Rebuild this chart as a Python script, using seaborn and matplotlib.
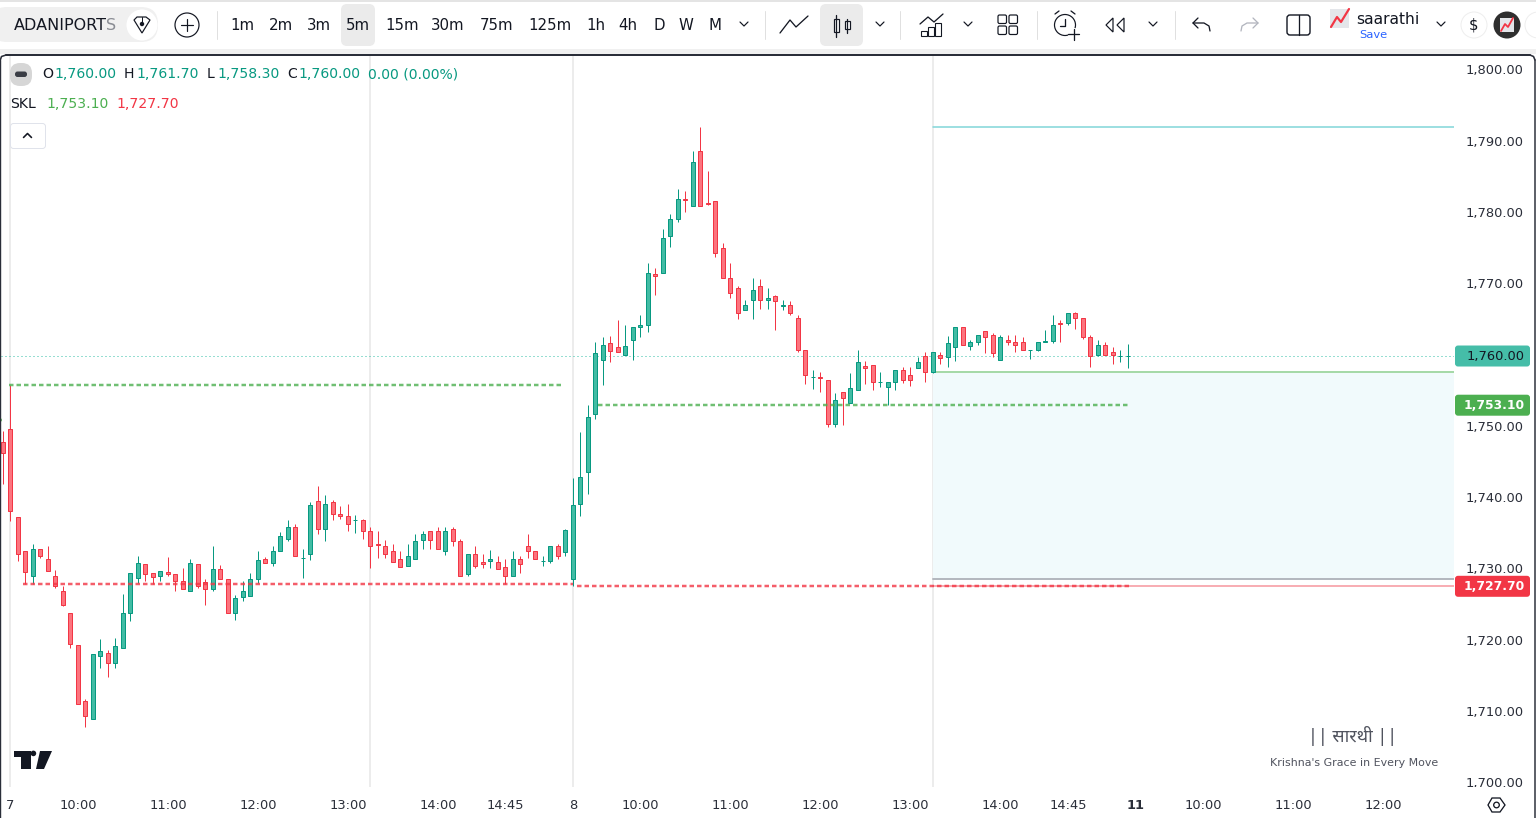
import numpy as np
import matplotlib
matplotlib.use("Agg")
import matplotlib.pyplot as plt
from matplotlib.patches import FancyBboxPatch, Rectangle, Circle, Polygon
from matplotlib.transforms import Bbox, ScaledTranslation
import seaborn as sns

# 5-minute session data, oldest bar first
opens = [1748.0,1749.7,1737.4,1732.6,1729.2,1733.0,1731.5,1729.1,1727.0,1723.9,1719.4,1711.6,1709.1,1717.9,1718.4,1716.9,1719.0,1723.9,1728.8,1730.8,
         1729.5,1729.1,1729.7,1729.4,1728.4,1727.0,1730.8,1728.3,1727.3,1730.1,1728.7,1723.9,1726.2,1726.3,1728.7,1731.5,1730.9,1732.6,1734.3,1736.0,
         1731.6,1732.3,1739.6,1735.7,1739.5,1737.9,1737.5,1737.0,1737.0,1735.4,1733.6,1733.3,1732.7,1731.5,1730.5,1731.5,1734.2,1735.4,1735.4,1732.6,
         1735.8,1734.0,1729.4,1732.3,1731.1,1731.2,1731.1,1730.4,1729.2,1731.5,1733.3,1732.6,1731.3,1731.2,1733.3,1732.5,1728.7,1739.2,1743.7,1751.8,
         1759.5,1761.8,1761.2,1760.2,1762.3,1764.0,1764.4,1771.5,1771.7,1776.8,1779.2,1782.0,1781.0,1788.7,1781.4,1781.8,1775.2,1771.0,1769.5,1766.4,
         1767.9,1769.8,1767.9,1768.4,1767.0,1767.2,1765.3,1760.9,1757.0,1757.0,1756.6,1750.4,1754.9,1753.4,1755.3,1758.6,1758.7,1756.3,1755.6,1756.3,
         1758.0,1757.4,1758.3,1760.0,1757.7,1760.1,1759.8,1761.2,1764.0,1761.4,1761.9,1763.5,1762.9,1759.5,1762.3,1761.9,1761.9,1760.8,1760.8,1761.9,
         1762.1,1764.6,1764.6,1766.0,1765.4,1762.6,1760.1,1761.5,1760.5,1760.0,1760.0]
highs = [1749.5,1755.9,1737.4,1732.6,1733.6,1733.0,1733.4,1730.0,1727.8,1723.9,1719.4,1711.9,1718.2,1720.3,1718.8,1720.5,1726.6,1729.5,1732.0,1730.8,
         1729.5,1729.8,1731.8,1729.4,1730.3,1731.5,1730.8,1728.7,1733.4,1730.7,1728.7,1726.5,1728.4,1729.5,1732.7,1731.8,1733.4,1735.3,1737.0,1736.4,
         1732.9,1739.5,1741.8,1740.5,1739.8,1738.9,1739.2,1737.7,1737.2,1736.0,1735.5,1734.2,1733.7,1732.6,1733.6,1735.0,1735.4,1735.4,1736.0,1736.0,
         1736.0,1734.3,1732.2,1733.4,1732.3,1732.8,1731.9,1731.5,1732.6,1731.9,1735.0,1732.6,1732.0,1733.4,1733.6,1735.8,1742.9,1749.3,1753.1,1761.9,
         1762.6,1762.8,1765.1,1764.4,1764.0,1765.8,1773.0,1772.4,1777.8,1779.9,1783.4,1783.2,1788.7,1792.1,1785.9,1781.8,1775.8,1773.0,1769.8,1767.9,
         1771.0,1770.8,1769.5,1768.5,1767.9,1767.7,1765.8,1760.9,1758.0,1757.7,1756.7,1754.8,1754.9,1757.6,1760.9,1759.3,1758.7,1757.7,1756.3,1758.0,
         1758.4,1758.4,1759.8,1760.5,1760.5,1760.5,1762.8,1764.0,1764.0,1762.3,1762.9,1763.5,1763.2,1763.0,1763.0,1763.0,1762.6,1760.9,1761.9,1763.7,
         1765.8,1765.0,1766.0,1766.2,1765.4,1763.0,1762.3,1761.9,1761.2,1760.9,1761.7]
lows = [1742.1,1736.9,1731.2,1728.0,1728.0,1731.6,1729.9,1727.5,1724.9,1719.0,1711.2,1708.0,1709.1,1716.2,1715.0,1716.3,1719.0,1722.9,1728.1,1728.5,
        1728.0,1728.5,1729.1,1727.1,1727.3,1727.0,1727.4,1725.1,1727.0,1728.7,1723.9,1723.0,1725.7,1726.3,1728.1,1730.9,1730.5,1732.6,1734.1,1731.9,
        1728.9,1731.4,1735.1,1734.0,1737.0,1737.2,1735.5,1735.2,1734.4,1730.2,1731.7,1731.6,1731.1,1730.4,1730.5,1731.5,1733.0,1733.0,1732.9,1732.1,
        1733.4,1729.1,1729.1,1730.2,1730.3,1730.3,1730.1,1728.0,1729.2,1729.5,1731.6,1731.5,1730.5,1730.9,1731.5,1732.0,1727.8,1737.5,1740.7,1751.2,
        1756.0,1759.1,1760.5,1760.2,1759.5,1762.6,1763.3,1768.6,1771.7,1775.3,1778.8,1780.2,1781.0,1781.1,1781.2,1773.9,1771.0,1768.2,1765.2,1766.4,
        1765.2,1766.6,1766.6,1763.7,1766.5,1765.8,1760.6,1756.1,1755.4,1755.0,1750.1,1750.1,1750.3,1753.4,1755.3,1756.1,1755.3,1755.6,1753.1,1755.3,
        1756.2,1755.8,1758.3,1756.4,1757.6,1758.9,1758.4,1759.3,1761.5,1760.9,1761.5,1760.4,1759.8,1759.5,1761.5,1760.5,1760.9,1759.6,1760.7,1761.9,
        1761.8,1762.0,1764.3,1763.8,1762.4,1758.5,1760.0,1760.2,1758.9,1759.2,1758.3]
closes = [1746.4,1738.2,1732.2,1729.7,1732.9,1731.9,1729.9,1727.7,1725.1,1719.6,1711.2,1709.5,1718.2,1718.6,1716.9,1719.3,1723.9,1729.5,1730.9,1729.4,
          1729.0,1729.8,1729.4,1728.4,1727.3,1730.9,1727.7,1727.3,1730.1,1728.7,1723.9,1726.0,1727.1,1728.7,1731.4,1730.9,1732.6,1734.7,1736.0,1731.9,
          1731.6,1739.1,1735.7,1739.2,1737.9,1737.5,1736.4,1737.0,1735.4,1733.3,1733.55,1732.2,1731.1,1730.4,1731.9,1734.0,1735.1,1734.2,1732.9,1735.4,
          1734.0,1729.2,1732.2,1730.5,1730.8,1731.5,1730.1,1729.2,1731.5,1730.8,1732.6,1731.5,1731.3,1733.4,1731.9,1735.6,1739.1,1743.1,1751.5,1760.4,
          1761.5,1760.7,1760.5,1761.4,1764.0,1764.4,1771.7,1771.2,1776.5,1779.2,1782.0,1781.95,1787.2,1781.1,1781.35,1774.5,1771.0,1768.9,1766.1,1767.2,
          1769.2,1767.9,1768.2,1767.7,1767.2,1766.0,1760.9,1757.4,1757.0,1756.95,1750.5,1753.8,1754.1,1755.5,1759.1,1758.3,1756.3,1756.3,1756.3,1758.0,
          1756.7,1756.7,1759.1,1757.7,1760.5,1759.7,1761.8,1764.0,1761.6,1761.9,1762.9,1762.6,1760.4,1762.6,1761.9,1761.6,1760.9,1760.8,1761.9,1762.1,
          1764.3,1764.55,1766.0,1765.4,1762.6,1760.0,1761.5,1760.2,1760.1,1760.0,1760.0]

# Support / resistance levels: (price, first bar, last bar)
skl_green_prior = (1751.0, -1.0, -0.1)
skl_green_day1 = (1755.94, 0.8, 74.5)
skl_green_day2 = (1753.10, 79.3, 150.2)
skl_red_day1 = (1728.0, 2.7, 76.0)
skl_red_day2 = (1727.70, 76.5, 150.3)

zone_start_bar = 124
zone_high = 1792.1
zone_mid_top = 1757.8
zone_mid_bottom = 1728.7
zone_low = 1727.7
last_price = 1760.00

session_bars = [1, 49, 76, 124]
price_ticks = [1700, 1710, 1720, 1730, 1740, 1750, 1760, 1770, 1780, 1790, 1800]
time_ticks = [1, 10, 22, 34, 46, 58, 67, 76, 85, 97, 109, 121, 133, 142, 151, 160, 172, 184]
time_labels = ["7", "10:00", "11:00", "12:00", "13:00", "14:00", "14:45", "8", "10:00", "11:00",
               "12:00", "13:00", "14:00", "14:45", "11", "10:00", "11:00", "12:00"]
timeframes = ["1m", "2m", "3m", "5m", "15m", "30m", "75m", "125m", "1h", "4h", "D", "W", "M"]
timeframe_centres = [242, 281, 319, 358, 402, 448, 497, 550, 596, 628, 659, 686, 715]

UP_EDGE, UP_FILL = "#089981", "#42bca4"
DOWN_EDGE, DOWN_FILL = "#f23645", "#fc747e"
LEVEL_GREEN, LEVEL_RED = "#4caf50", "#f23645"
INK = "#131722"
AXIS_TEXT = "#2a2e39"

sns.set_theme(style="white", rc={"axes.grid": False})
plt.rcParams["font.family"] = ["DejaVu Sans"]

W, H = 1536, 818
fig = plt.figure(figsize=(W / 100, H / 100), dpi=100, facecolor="white")
px = 0.72  # points per pixel at this dpi

pane_left, pane_right, pane_top, pane_bottom = 1, 1454, 55, 787
ax = fig.add_axes([pane_left / W, (H - pane_bottom) / H,
                   (pane_right - pane_left) / W, (pane_bottom - pane_top) / H])
ax.set_facecolor("white")
ax.set_xlim(-0.257, 193.48)
ax.set_ylim(1699.55, 1802.22)
for spine in ax.spines.values():
    spine.set_visible(False)

# session separators
for bar in session_bars:
    ax.axvline(bar, color="#ececec", lw=2 * px, zorder=1)

# price zone on the right of the last session separator
xmax = ax.get_xlim()[1]
ax.fill_between([zone_start_bar, xmax], zone_mid_bottom, zone_mid_top, color="#f1fafc", lw=0, zorder=1)


def level(price, start, stop, color, **kws):
    sns.lineplot(x=[start, stop], y=[price, price], ax=ax, color=color,
                 estimator=None, errorbar=None, legend=False, **kws)


level(zone_high, zone_start_bar, xmax, "#86d8da", lw=1.6 * px, zorder=2)
level(zone_mid_top, zone_start_bar, xmax, "#a6d9a8", lw=2 * px, zorder=2)
level(zone_mid_bottom, zone_start_bar, xmax, "#b4b8bf", lw=2 * px, zorder=2)
level(zone_low, zone_start_bar, xmax, "#f79aa2", lw=1.6 * px, zorder=2)
level(last_price, ax.get_xlim()[0], xmax, "#30bfa6", lw=1 * px, linestyle=(0, (1, 3)), zorder=2)

# candles
o, h, l, c = map(np.asarray, (opens, highs, lows, closes))
idx = np.arange(len(o))
rising = c >= o
edge = np.where(rising, UP_EDGE, DOWN_EDGE)
fill = np.where(rising, UP_FILL, DOWN_FILL)
ax.vlines(idx, l, h, colors=edge, lw=1 * px, zorder=3)
ax.bar(idx, np.abs(c - o), bottom=np.minimum(o, c), width=0.54, color=fill, edgecolor=edge,
       linewidth=1 * px, zorder=4)

# dashed structure levels over the candles
dash = (0, (1.8, 1.2))
for (price, a, b), col in [(skl_green_prior, LEVEL_GREEN), (skl_green_day1, LEVEL_GREEN), (skl_green_day2, LEVEL_GREEN),
                           (skl_red_day1, LEVEL_RED), (skl_red_day2, LEVEL_RED)]:
    level(price, a, b, col, lw=2.5 * px, linestyle=dash, alpha=0.8, zorder=5)

ax.set(xlabel="", ylabel="")
ax.yaxis.tick_right()
ax.set_yticks(price_ticks, [f"{v:,.2f}" for v in price_ticks])
ax.set_xticks(time_ticks, time_labels)
ax.tick_params(axis="y", length=0, pad=12 * px, labelsize=13 * px, labelcolor=AXIS_TEXT)
ax.tick_params(axis="x", length=0, pad=12 * px, labelsize=13 * px, labelcolor=AXIS_TEXT)
for lab, txt in zip(ax.get_xticklabels(), time_labels):
    if txt == "11":
        lab.set_fontweight("bold")
# the lowest price label runs into the time scale and is cut off there
clip = Bbox([[0, (H - pane_bottom)], [W, H]])
for lab in ax.get_yticklabels():
    lab.set_transform(lab.get_transform() + ScaledTranslation(0, 1.5 / 100, fig.dpi_scale_trans))
    lab.set_clip_box(clip)
    lab.set_clip_on(True)

# interface layer in pixel coordinates
ov = fig.add_axes([0, 0, 1, 1], zorder=10)
ov.set_xlim(0, W)
ov.set_ylim(H, 0)
ov.axis("off")
ov.patch.set_visible(False)


def rbox(x0, y0, x1, y1, r, fc="none", ec="none", lw=0.0, **kws):
    ov.add_patch(FancyBboxPatch((x0, y0), x1 - x0, y1 - y0, boxstyle=f"round,pad=0,rounding_size={r}",
                                fc=fc, ec=ec, lw=lw * px, **kws))


def stroke(xs, ys, color=INK, lw=1.3, **kws):
    ov.plot(xs, ys, color=color, lw=lw * px, solid_capstyle="round", solid_joinstyle="round", **kws)


def label(x, y, s, size=14, color=INK, ha="left", **kws):
    ov.text(x, y, s, fontsize=size * px, color=color, ha=ha, va="center", **kws)


def chevron(x, y, color=INK):
    stroke([x - 4, x, x + 4], [y - 2, y + 2, y - 2], color=color, lw=1.2)


# toolbar background and frame
ov.add_patch(Rectangle((0, 0), W, 1.5, fc="#e4e4e4", ec="none"))
ov.add_patch(Rectangle((0, 49), W, 5, fc="#f0f0f0", ec="none"))
stroke([0.3, 0.3], [60, 818], lw=1.4, color="#2a2e39")
stroke([6, 1530], [55, 55], lw=2, color="#2a2e39")
stroke([1535, 1535], [60, 818], lw=1.5, color="#2a2e39")
ov.plot([0.3, 1.5, 6], [60, 56.5, 55], color="#2a2e39", lw=1.6 * px)
ov.plot([1530, 1533.5, 1535], [55, 56.5, 60], color="#2a2e39", lw=1.6 * px)

# symbol search
rbox(-10, 7, 158, 42, 17, fc="#f0f0f0")
ov.add_patch(Circle((142, 25), 15.5, fc="white", ec="none"))
label(14, 25, "ADANIPORT", size=16, fontweight="medium")
label(106, 25, "S", size=16, color="#8a8d94")
ov.add_patch(Polygon([(134, 20), (137, 17), (146, 17), (150, 20), (142, 33)], closed=True, fc="none", ec=INK, lw=1.2 * px))
ov.add_patch(Circle((142, 24), 2.2, fc=INK, ec="none"))
stroke([142, 142], [17, 22], lw=1)

ov.add_patch(Circle((187, 25), 12, fc="none", ec=INK, lw=1.2 * px))
stroke([181, 193], [25, 25], lw=1.2)
stroke([187, 187], [19, 31], lw=1.2)
stroke([217, 217], [11, 39], color="#e0e0e0", lw=1)

# interval selector
rbox(341, 4, 375, 46, 6, fc="#ebebeb")
rbox(820, 4, 863, 46, 6, fc="#ebebeb")
for cx, tf in zip(timeframe_centres, timeframes):
    label(cx, 25, tf, size=15, ha="center")
chevron(744, 24)
for sep in (765, 900, 1037, 1175):
    stroke([sep, sep], [11, 39], color="#e0e0e0", lw=1)

# line and candle chart types
stroke([780, 790, 796, 808], [33, 20, 27, 16])
stroke([836, 836], [15, 37])
ov.add_patch(Rectangle((833.5, 19), 5, 13, fc="white", ec=INK, lw=1.2 * px))
stroke([847, 847], [19, 33])
ov.add_patch(Rectangle((844.5, 21), 5, 8, fc="white", ec=INK, lw=1.2 * px))
chevron(880, 24)

# indicators, layouts
stroke([920, 928, 934, 943], [24, 17, 22, 14])
for x0, top in [(921, 31), (928, 27), (935, 23)]:
    ov.add_patch(Rectangle((x0, top), 6, 36 - top, fc="white", ec=INK, lw=1.1 * px))
chevron(968, 24)
for x0, y0 in [(998, 15), (1009, 15), (998, 26), (1009, 26)]:
    rbox(x0, y0, x0 + 8.5, y0 + 8.5, 1.5, ec=INK, lw=1.2)

# alert, replay
ov.add_patch(Circle((1065, 25), 10.5, fc="none", ec=INK, lw=1.2 * px))
stroke([1065, 1065, 1060], [19, 26, 26])
stroke([1055, 1059], [14, 11])
stroke([1071, 1075], [11, 14])
ov.add_patch(Circle((1074, 34), 6, fc="white", ec="none"))
stroke([1068, 1079], [34, 34])
stroke([1073.5, 1073.5], [28.5, 39.5])
ov.add_patch(Polygon([(1113, 18), (1106, 25), (1113, 32)], closed=True, fc="none", ec=INK, lw=1.2 * px))
ov.add_patch(Polygon([(1124, 18), (1117, 25), (1124, 32)], closed=True, fc="none", ec=INK, lw=1.2 * px))
chevron(1153, 24)

# undo, redo, split view
stroke([1198, 1193, 1198], [18, 23, 28])
stroke([1193, 1204, 1209, 1210], [23, 23, 26, 31])
stroke([1253, 1258, 1253], [18, 23, 28], color="#b2b5be")
stroke([1258, 1247, 1242, 1241], [23, 23, 26, 31], color="#b2b5be")
rbox(1287, 15, 1310, 35, 3, ec=INK, lw=1.4)
stroke([1298.5, 1298.5], [15, 35])

# saved layout
ov.add_patch(Rectangle((1330, 9), 19, 19, fc="#e4e6ea", ec="none"))
stroke([1331, 1337, 1341, 1349], [27, 17, 22, 9], color="#f23645", lw=2.2)
label(1356, 19, "saarathi", size=15.5, fontweight="medium")
label(1373, 35, "Save", size=11.5, color="#2962ff", ha="center")
chevron(1441, 24)
ov.add_patch(Circle((1474, 25), 13, fc="white", ec="#eeeeee", lw=1 * px))
label(1474, 25, "$", size=15, ha="center")
ov.add_patch(Circle((1507, 25), 13.5, fc="#2f2f2f", ec="none"))
ov.add_patch(Rectangle((1500, 18), 14, 14, fc="#e4e6ea", ec="none"))
stroke([1501, 1505, 1508, 1513], [31, 24, 27, 18], color="#f23645", lw=1.8)
ov.add_patch(Circle((1538, 25), 13, fc="white", ec="#eeeeee", lw=1 * px))

# OHLC legend
rbox(10, 63, 32, 86, 10, fc="#d6d6d6")
rbox(15, 71.5, 27, 77, 2.5, fc="#3a3d45")
LEGEND_Y = 74
for x, s, col in [(42, "O", INK), (54, "1,760.00", UP_EDGE), (124, "H", INK), (136, "1,761.70", UP_EDGE),
                  (207, "L", INK), (217, "1,758.30", UP_EDGE), (287, "C", INK), (298, "1,760.00", UP_EDGE),
                  (368, "0.00 (0.00%)", UP_EDGE)]:
    label(x, LEGEND_Y, s, size=14, color=col)
label(10, 104, "SKL", size=14)
label(46, 104, f"{skl_green_day2[0]:,.2f}", size=14, color=LEVEL_GREEN)
label(116, 104, f"{skl_red_day2[0]:,.2f}", size=14, color=LEVEL_RED)
rbox(10.5, 123.5, 45.5, 148.5, 3, fc="white", ec="#e0e3eb", lw=1)
stroke([23.5, 27.5, 31.5], [137.5, 133.5, 137.5], lw=1.6)

# publisher mark
ov.add_patch(Polygon([(14, 751), (31, 751), (31, 769), (21, 769), (21, 757), (14, 757)], closed=True, fc=INK, ec="none"))
ov.add_patch(Circle((33.4, 753.4), 2.8, fc=INK, ec="none"))
ov.add_patch(Polygon([(40, 751), (52, 751), (44, 769), (36, 769)], closed=True, fc=INK, ec="none"))

# watermark
ov.text(1353, 736, "|| सारथी ||", fontsize=18 * px, color="#50535e", ha="center", va="center",
        family=["Noto Sans", "Noto Sans Devanagari", "DejaVu Sans"])
label(1354, 763, "Krishna's Grace in Every Move", size=11, color="#50535e", ha="center")

# scale settings
ov.add_patch(Polygon([(1488, 805), (1492, 798), (1500, 798), (1505, 805), (1500, 812), (1492, 812)], closed=True,
                     fc="none", ec=INK, lw=1.3 * px))
ov.add_patch(Circle((1496.5, 805), 2.8, fc="none", ec=INK, lw=1.3 * px))


# price tags follow the price scale
def price_tag(price, face, text_color, weight="normal"):
    _, yd = ax.transData.transform((0, price))
    y = H - yd
    rbox(1455, y - 10.5, 1530, y + 10.5, 3, fc=face)
    label(1525, y, f"{price:,.2f}", size=12.3 if weight == "bold" else 13, color=text_color, ha="right", fontweight=weight)


price_tag(last_price, "#45bda8", INK)
price_tag(skl_green_day2[0], LEVEL_GREEN, "white", "bold")
price_tag(skl_red_day2[0], LEVEL_RED, "white", "bold")

fig.savefig("out.png", dpi=100, facecolor="white")
